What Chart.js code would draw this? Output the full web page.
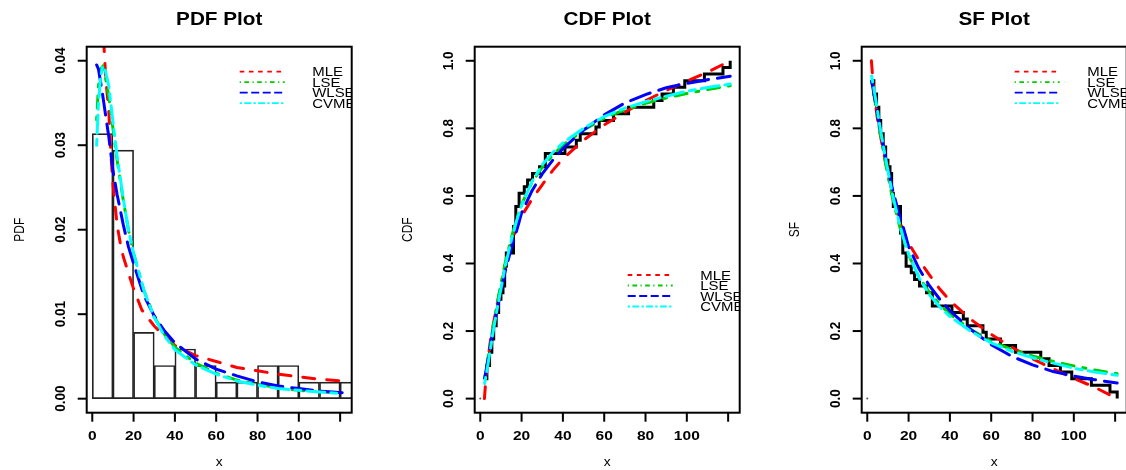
<!DOCTYPE html>
<html>
<head>
<meta charset="utf-8">
<script src="https://cdn.jsdelivr.net/npm/chart.js@4.4.1/dist/chart.umd.min.js"></script>
<style>
  html, body { margin: 0; padding: 0; background: #fff; overflow: hidden; width: 1126px; height: 470px; }
  .panel { position: absolute; top: 0; width: 388px; height: 470px; }
</style>
</head>
<body>
<div class="panel" style="left:0px"><canvas id="pdfChart" width="388" height="470"></canvas></div>
<div class="panel" style="left:388px"><canvas id="cdfChart" width="388" height="470"></canvas></div>
<div class="panel" style="left:775px"><canvas id="sfChart" width="388" height="470"></canvas></div>
<script>
// sample (n = 51)
const obs = [2.1, 2.1, 2.1, 3.2, 3.2, 4.5, 4.5, 5.6, 5.6, 6.5, 6.5, 7.7, 7.7, 8.9, 8.9, 10,
  11, 11.8, 11.8, 11.8, 12.6, 12.6, 16.1, 16.1, 16.1, 16.1, 17.2, 17.2, 17.2, 18.8, 18.8,
  21.3, 22.9, 25.3, 28.7,
  31.5, 31.5,
  41, 46.5, 48.4,
  56, 57.6,
  64.5, 71.8, 84, 88, 93.5, 99, 108.5, 117.5, 121];

// histogram (bin width 10)
const binStarts = [0, 10, 20, 30, 40, 50, 60, 70, 80, 90, 100, 110, 120];
const binCounts = [16, 15, 4, 2, 3, 2, 1, 1, 2, 2, 1, 1, 1];

const fitNames = ['MLE', 'LSE', 'WLSE', 'CVME'];
const fitColors = ['#FF0000', '#00CD00', '#0000FF', '#00FFFF'];
const fitDash = [[12, 12], [3, 9, 12, 9], [21, 9], [6, 6, 18, 6]];
const legendDash = [[4.6, 4.6], [1.2, 3.5, 4.6, 3.5], [8, 3.5], [2.3, 2.3, 6.9, 2.3]];

// fitted curves
const gridX = [2.1, 3, 4, 5, 6, 8, 10, 12, 15, 17.5, 20, 25, 30, 35, 40, 50, 60, 70, 80, 90, 100, 110, 121];
const mlePdfX = [5.5, 6.5, 8, 9, 10, 11, 12, 13.5, 15, 18, 20, 24, 30, 35, 40, 50, 60, 70, 80, 90, 100, 110, 121];
const mlePdf = [0.0425, 0.038, 0.034, 0.029, 0.0255, 0.023, 0.0206, 0.0185, 0.0168, 0.0145, 0.013, 0.0105, 0.0086, 0.0074, 0.0063, 0.0051, 0.0044, 0.0037, 0.0033, 0.0029, 0.0026, 0.0023, 0.0021];
const lsePdf = [0.033, 0.037, 0.039, 0.0393, 0.0385, 0.0358, 0.032, 0.0283, 0.0235, 0.020, 0.0172, 0.0128, 0.0097, 0.0076, 0.0061, 0.0042, 0.0030, 0.0022, 0.0017, 0.0013, 0.0010, 0.0008, 0.0007];
const wlsePdf = [0.0395, 0.039, 0.0375, 0.036, 0.0343, 0.031, 0.027, 0.0242, 0.0206, 0.018, 0.016, 0.0122, 0.0098, 0.0080, 0.0066, 0.0047, 0.0035, 0.0027, 0.0020, 0.0015, 0.0012, 0.0009, 0.0007];
const cvmePdf = [0.030, 0.035, 0.038, 0.0393, 0.0392, 0.037, 0.0328, 0.0287, 0.0237, 0.020, 0.0172, 0.0128, 0.0096, 0.0074, 0.0058, 0.0040, 0.0029, 0.0021, 0.0016, 0.0012, 0.0010, 0.0008, 0.0006];

const mleCdfX = [2.0, 2.5, 3, 4, 5, 6, 8, 10, 12.5, 15, 17.5, 20, 25, 30, 35, 40, 50, 60, 70, 80, 90, 100, 110, 121];
const mleCdf = [0, 0.04, 0.08, 0.13, 0.175, 0.21, 0.275, 0.335, 0.40, 0.46, 0.505, 0.54, 0.59, 0.633, 0.675, 0.71, 0.765, 0.81, 0.848, 0.882, 0.912, 0.94, 0.966, 1.0];
const lseCdf = [0.06, 0.092, 0.13, 0.168, 0.205, 0.275, 0.34, 0.40, 0.475, 0.53, 0.575, 0.64, 0.685, 0.72, 0.75, 0.795, 0.83, 0.855, 0.874, 0.89, 0.903, 0.915, 0.926];
const wlseCdf = [0.06, 0.09, 0.125, 0.16, 0.195, 0.26, 0.32, 0.375, 0.445, 0.495, 0.55, 0.615, 0.665, 0.705, 0.74, 0.795, 0.84, 0.875, 0.90, 0.92, 0.933, 0.944, 0.954];
const cvmeCdf = [0.045, 0.075, 0.112, 0.15, 0.19, 0.26, 0.325, 0.39, 0.468, 0.525, 0.572, 0.642, 0.692, 0.728, 0.757, 0.80, 0.835, 0.86, 0.879, 0.895, 0.91, 0.921, 0.931];

const xTicks = [0, 20, 40, 60, 80, 100, 120];
const xTickLabels = ['0', '20', '40', '60', '80', '100', ''];
const pdfTicks = [0, 0.01, 0.02, 0.03, 0.04];
const pdfTickLabels = ['0.00', '0.01', '0.02', '0.03', '0.04'];
const probTicks = [0, 0.2, 0.4, 0.6, 0.8, 1.0];
const probTickLabels = ['0.0', '0.2', '0.4', '0.6', '0.8', '1.0'];

const n = obs.length;
const FAMILY = "'Liberation Sans', Arial, Helvetica, sans-serif";
const SX = 1.15; // text looks a bit wider than tall in the original

function drawText(ctx, text, x, y, font, align, rotated) {
  ctx.save();
  ctx.translate(x, y);
  if (rotated) {
    ctx.rotate(-Math.PI / 2);
    ctx.scale(1, SX);
  } else {
    ctx.scale(SX, 1);
  }
  ctx.font = font;
  ctx.textAlign = align || 'center';
  ctx.textBaseline = 'alphabetic';
  ctx.fillStyle = '#000';
  ctx.fillText(text, 0, 0);
  ctx.restore();
}

function seg(ctx, x1, y1, x2, y2) {
  ctx.beginPath();
  ctx.moveTo(x1, y1);
  ctx.lineTo(x2, y2);
  ctx.stroke();
}

// R-style frame: box, outside ticks, rotated y labels, title, legend
const rFrame = {
  id: 'rFrame',
  afterDatasetsDraw(chart, args, o) {
    const { ctx, chartArea: a, scales: { x, y } } = chart;
    ctx.save();
    ctx.strokeStyle = '#000';
    ctx.lineWidth = 2;
    ctx.strokeRect(a.left, a.top, a.right - a.left, a.bottom - a.top);

    xTicks.forEach((v, i) => {
      const px = x.getPixelForValue(v);
      seg(ctx, px, a.bottom, px, a.bottom + 9);
      if (xTickLabels[i]) drawText(ctx, xTickLabels[i], px, a.bottom + 27, `bold 13.5px ${FAMILY}`, 'center');
    });
    o.yTicks.forEach((v, i) => {
      const py = y.getPixelForValue(v);
      seg(ctx, a.left - 9, py, a.left, py);
      drawText(ctx, o.yLabels[i], a.left - 22, py, `bold 13.5px ${FAMILY}`, 'center', true);
    });

    const cx = (a.left + a.right) / 2;
    drawText(ctx, o.title, cx, 24.5, `bold 18px ${FAMILY}`, 'center');
    drawText(ctx, 'x', cx, a.bottom + 53, `12px ${FAMILY}`, 'center');
    drawText(ctx, o.ylab, a.left - 63, (a.top + a.bottom) / 2, `12px ${FAMILY}`, 'center', true);

    // legend, clipped to the plot region like R does
    ctx.beginPath();
    ctx.rect(a.left, a.top, a.right - a.left, a.bottom - a.top);
    ctx.clip();
    fitNames.forEach((name, k) => {
      const ly = a.top + o.legendTop + k * 10.5;
      ctx.strokeStyle = fitColors[k];
      ctx.lineWidth = 1.8;
      ctx.setLineDash(legendDash[k]);
      seg(ctx, a.left + 153, ly, a.left + 198, ly);
      ctx.setLineDash([]);
      drawText(ctx, name, a.left + 225.5, ly + 4.7, `13px ${FAMILY}`, 'left');
    });
    ctx.restore();
  }
};

function fitSet(label, xs, ys, k, order) {
  return {
    type: 'scatter',
    label,
    data: xs.map((v, i) => ({ x: v, y: ys[i] })),
    showLine: true,
    pointRadius: 0,
    borderColor: fitColors[k],
    borderWidth: 3,
    borderDash: fitDash[k],
    borderCapStyle: 'round',
    tension: 0,
    order
  };
}

// empirical CDF at the distinct sample values
const ecdfPts = [];
obs.forEach((v, i) => {
  if (obs[i + 1] !== v) ecdfPts.push({ x: v, y: (i + 1) / n });
});

function stepSet(points) {
  return {
    type: 'scatter',
    label: 'empirical',
    data: points,
    showLine: true,
    stepped: 'before',
    pointRadius: 0,
    borderColor: '#000',
    borderWidth: 3,
    borderJoinStyle: 'miter',
    order: 10
  };
}

const originDot = {
  type: 'scatter', label: 'origin', data: [{ x: 0, y: 0 }],
  pointRadius: 1, pointBackgroundColor: '#555', pointBorderWidth: 0, order: 11
};

function makeScales(yMin, yMax) {
  return {
    x: {
      type: 'linear', min: -2.7, max: 125.6, offset: false,
      grid: { display: false, drawTicks: false, offset: false },
      border: { display: false },
      ticks: { display: false },
      afterFit(s) { s.height = 57.3; }
    },
    y: {
      type: 'linear', min: yMin, max: yMax,
      grid: { display: false, drawTicks: false },
      border: { display: false },
      ticks: { display: false },
      afterFit(s) { s.width = 86.7; }
    }
  };
}

function baseOptions(frame, yMin, yMax) {
  return {
    responsive: false,
    animation: false,
    events: [],
    layout: { padding: { top: 46.7, right: 36.3, left: 0, bottom: 0 } },
    scales: makeScales(yMin, yMax),
    plugins: {
      legend: { display: false },
      tooltip: { enabled: false },
      title: { display: false },
      rFrame: frame
    }
  };
}

// PDF panel
new Chart(document.getElementById('pdfChart'), {
  type: 'scatter',
  plugins: [rFrame],
  data: {
    datasets: [
      fitSet('MLE', mlePdfX, mlePdf, 0, 4),
      fitSet('LSE', gridX, lsePdf, 1, 3),
      fitSet('WLSE', gridX, wlsePdf, 2, 2),
      fitSet('CVME', gridX, cvmePdf, 3, 1),
      {
        type: 'bar',
        label: 'hist',
        data: binStarts.map((b, i) => ({ x: b + 5, y: binCounts[i] / (n * 10) })),
        backgroundColor: 'rgba(0,0,0,0)',
        borderColor: '#222',
        borderWidth: 1,
        borderSkipped: false,
        barPercentage: 1,
        categoryPercentage: 1,
        order: 10
      }
    ]
  },
  options: baseOptions({ title: 'PDF Plot', ylab: 'PDF', yTicks: pdfTicks, yLabels: pdfTickLabels, legendTop: 25 }, -0.00166, 0.04166)
});

// CDF panel
new Chart(document.getElementById('cdfChart'), {
  type: 'scatter',
  plugins: [rFrame],
  data: {
    datasets: [
      fitSet('MLE', mleCdfX, mleCdf, 0, 4),
      fitSet('LSE', gridX, lseCdf, 1, 3),
      fitSet('WLSE', gridX, wlseCdf, 2, 2),
      fitSet('CVME', gridX, cvmeCdf, 3, 1),
      stepSet(ecdfPts),
      originDot
    ]
  },
  options: baseOptions({ title: 'CDF Plot', ylab: 'CDF', yTicks: probTicks, yLabels: probTickLabels, legendTop: 228.3 }, -0.0417, 1.0417)
});

// SF panel
const sf = arr => arr.map(v => 1 - v);
new Chart(document.getElementById('sfChart'), {
  type: 'scatter',
  plugins: [rFrame],
  data: {
    datasets: [
      fitSet('MLE', mleCdfX, sf(mleCdf), 0, 4),
      fitSet('LSE', gridX, sf(lseCdf), 1, 3),
      fitSet('WLSE', gridX, sf(wlseCdf), 2, 2),
      fitSet('CVME', gridX, sf(cvmeCdf), 3, 1),
      stepSet(ecdfPts.map(p => ({ x: p.x, y: 1 - p.y }))),
      Object.assign({}, originDot)
    ]
  },
  options: baseOptions({ title: 'SF Plot', ylab: 'SF', yTicks: probTicks, yLabels: probTickLabels, legendTop: 25 }, -0.0417, 1.0417)
});
</script>
</body>
</html>
